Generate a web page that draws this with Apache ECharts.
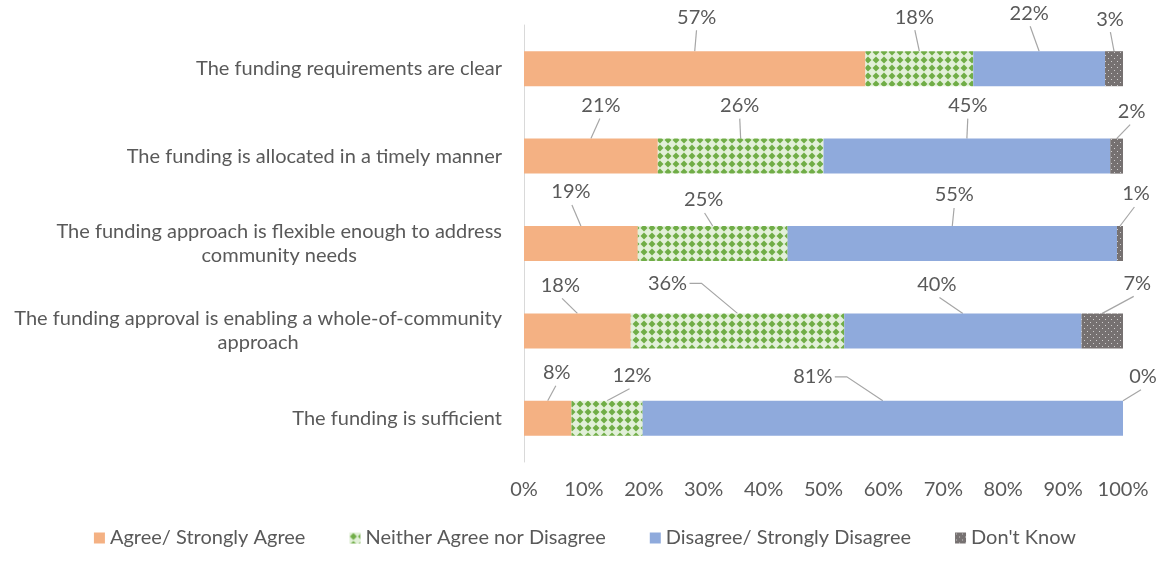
<!DOCTYPE html>
<html lang="en">
<head>
    <meta charset="UTF-8">
    <title>Funding survey</title>
    <style>
        body { margin: 0; background: #fff; }
        #chart { width: 1170px; height: 561px; }
    </style>
</head>
<body>
<div id="chart"></div>
<script src="https://cdn.jsdelivr.net/npm/echarts@6/dist/echarts.min.js"></script>
<script>
    var categories = [
        'The funding requirements are clear',
        'The funding is allocated in a timely manner',
        'The funding approach is flexible enough to address\ncommunity needs',
        'The funding approval is enabling a whole-of-community\napproach',
        'The funding is sufficient'
    ];
    var seriesNames = ['Agree/ Strongly Agree', 'Neither Agree nor Disagree', 'Disagree/ Strongly Disagree', "Don't Know"];
    var agree = [57, 21, 19, 18, 8];
    var neither = [18, 26, 25, 36, 12];
    var disagree = [22, 45, 55, 40, 81];
    var dontKnow = [3, 2, 1, 7, 0];
    var xTicks = [0, 10, 20, 30, 40, 50, 60, 70, 80, 90, 100];

    // label offsets from the top-centre of each segment [dx, dy]
    var labelOffsets = [
        [[2, -34], [10, -33], [-10, -34], [-17, -28], [9, -28]],
        [[-5, -34], [-1, -33], [-9, -26], [-70, -30], [25, -25]],
        [[-10, -38], [1, -33], [2, -31], [-26, -29], [-70, -24]],
        [[-4, -32], [15, -27], [16, -32], [35, -30], [20, -24]]
    ];

    var FONT = 'Lato';
    var FS = 20;
    var BAR_W = 35;

    function makePattern(kind) {
        var c = document.createElement('canvas');
        var ctx = c.getContext('2d');
        if (kind === 'diamond') {
            c.width = 8; c.height = 8;
            ctx.fillStyle = '#e2f0d9';
            ctx.fillRect(0, 0, 8, 8);
            ctx.fillStyle = '#70ad47';
            ctx.beginPath();
            ctx.moveTo(4, 0.5); ctx.lineTo(7.5, 4); ctx.lineTo(4, 7.5); ctx.lineTo(0.5, 4);
            ctx.closePath();
            ctx.fill();
        } else {
            c.width = 6; c.height = 6;
            ctx.fillStyle = '#767171';
            ctx.fillRect(0, 0, 6, 6);
            ctx.fillStyle = '#d0cece';
            ctx.fillRect(1, 1, 1, 1);
            ctx.fillRect(4, 4, 1, 1);
        }
        return { image: c, repeat: 'repeat' };
    }

    var rawLists = [agree, neither, disagree, dontKnow];
    var totals = categories.map(function (c, i) {
        return agree[i] + neither[i] + disagree[i] + dontKnow[i];
    });
    var colors = ['#f4b183', makePattern('diamond'), '#8faadc', makePattern('dots')];

    var series = rawLists.map(function (list, s) {
        return {
            name: seriesNames[s],
            type: 'bar',
            stack: 'total',
            barWidth: BAR_W,
            itemStyle: { color: colors[s] },
            data: list.map(function (v, i) {
                return { value: v / totals[i] * 100, raw: v };
            }),
            label: {
                show: true,
                position: 'top',
                color: '#595959',
                fontSize: FS,
                fontFamily: FONT,
                formatter: function (p) { return p.data.raw + '%'; }
            },
            labelLayout: function (p) {
                var off = labelOffsets[p.seriesIndex][p.dataIndex];
                return {
                    x: p.rect.x + p.rect.width / 2 + off[0],
                    y: p.rect.y + off[1],
                    align: 'center',
                    verticalAlign: 'middle'
                };
            }
        };
    });

    var myChart = echarts.init(document.getElementById('chart'));
    var option = {
        animation: false,
        textStyle: { fontFamily: FONT },
        grid: { left: 524, right: 47, top: 25, bottom: 99 },
        legend: {
            bottom: 8,
            left: 'center',
            itemWidth: 11,
            itemHeight: 11,
            itemGap: 44,
            icon: 'rect',
            textStyle: { color: '#595959', fontSize: FS, fontFamily: FONT },
            data: seriesNames
        },
        xAxis: {
            type: 'value',
            min: 0,
            max: 100,
            interval: 10,
            axisLine: { show: false },
            axisTick: { show: false },
            splitLine: { show: false },
            axisLabel: {
                color: '#595959',
                fontSize: FS,
                margin: 18,
                formatter: function (v) { return xTicks.indexOf(v) >= 0 ? v + '%' : ''; }
            }
        },
        yAxis: {
            type: 'category',
            inverse: true,
            data: categories,
            axisLine: { show: true, lineStyle: { color: '#d9d9d9' } },
            axisTick: { show: false },
            axisLabel: {
                color: '#595959',
                fontSize: FS,
                margin: 22,
                formatter: function (v) {
                    return v.split('\n').map(function (s) { return '{c|' + s + '}'; }).join('\n');
                },
                rich: {
                    c: { align: 'center', color: '#595959', fontSize: FS, fontFamily: FONT, lineHeight: 24 }
                }
            }
        },
        series: series
    };
    myChart.setOption(option);

    // leader lines from each label to the middle of its segment
    var leaders = [];
    categories.forEach(function (c, i) {
        var start = 0;
        rawLists.forEach(function (list, s) {
            var share = list[i] / totals[i] * 100;
            var pt = myChart.convertToPixel({ gridIndex: 0 }, [start + share / 2, i]);
            start += share;
            var cx = pt[0];
            var top = pt[1] - BAR_W / 2;
            var off = labelOffsets[s][i];
            var lx = cx + off[0];
            var ly = top + off[1];
            var pts;
            if (Math.abs(off[0]) > 40) {
                var hw = 19;
                var sx = off[0] < 0 ? lx + hw + 3 : lx - hw - 3;
                var ex = off[0] < 0 ? sx + 12 : sx - 12;
                pts = [[sx, ly], [ex, ly], [cx, top]];
            } else {
                pts = [[lx + (cx - lx) * 0.1, ly + 13], [cx, top]];
            }
            leaders.push({
                type: 'polyline',
                silent: true,
                shape: { points: pts },
                style: { stroke: '#a6a6a6', lineWidth: 1.2, fill: null }
            });
        });
    });
    myChart.setOption({ graphic: leaders });
</script>
</body>
</html>
